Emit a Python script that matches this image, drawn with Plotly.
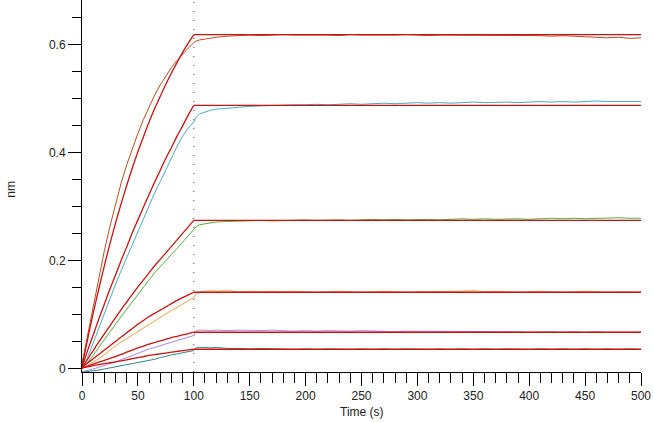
import plotly.graph_objects as go

# ---------------- data ----------------
t_assoc = [0, 5, 10, 15, 20, 25, 30, 35, 40, 45, 50, 55, 60, 65, 70, 75, 80, 85, 90, 95, 100]
t_dis = [102, 105, 110, 115, 120, 130, 140, 150, 160, 170, 180, 190, 200, 210, 220, 230, 240,
         250, 260, 270, 280, 290, 300, 310, 320, 330, 340, 350, 360, 370, 380, 390, 400, 410,
         420, 430, 440, 450, 460, 470, 480, 490, 500]
t_plateau = [100, 500]

d1_assoc = [0.010, 0.062, 0.117, 0.170, 0.219, 0.264, 0.306, 0.344, 0.378, 0.408, 0.436, 0.462,
            0.486, 0.507, 0.526, 0.543, 0.558, 0.571, 0.583, 0.594, 0.604]
d1_dis = [0.607, 0.609, 0.611, 0.613, 0.614, 0.616, 0.617, 0.618, 0.617, 0.618, 0.619, 0.618,
          0.618, 0.619, 0.618, 0.617, 0.619, 0.618, 0.618, 0.617, 0.618, 0.619, 0.618, 0.617,
          0.618, 0.618, 0.617, 0.618, 0.617, 0.618, 0.617, 0.618, 0.617, 0.617, 0.616, 0.617,
          0.616, 0.615, 0.614, 0.613, 0.614, 0.612, 0.613]
f1 = [0.005, 0.055, 0.103, 0.148, 0.191, 0.232, 0.270, 0.306, 0.340, 0.372, 0.402, 0.430,
      0.457, 0.482, 0.505, 0.527, 0.548, 0.567, 0.586, 0.603, 0.619]

d2_assoc = [0.003, 0.022, 0.048, 0.076, 0.103, 0.130, 0.157, 0.182, 0.206, 0.232, 0.256, 0.280,
            0.303, 0.326, 0.347, 0.369, 0.391, 0.412, 0.431, 0.446, 0.457]
d2_dis = [0.466, 0.472, 0.476, 0.479, 0.481, 0.483, 0.485, 0.486, 0.487, 0.488, 0.488, 0.489,
          0.489, 0.490, 0.489, 0.490, 0.491, 0.490, 0.491, 0.492, 0.491, 0.492, 0.493, 0.492,
          0.493, 0.492, 0.493, 0.494, 0.493, 0.494, 0.494, 0.493, 0.494, 0.495, 0.494, 0.495,
          0.494, 0.495, 0.496, 0.495, 0.495, 0.496, 0.495]
f2 = [0.004, 0.034, 0.063, 0.092, 0.120, 0.148, 0.174, 0.201, 0.226, 0.252, 0.276, 0.300,
      0.323, 0.346, 0.368, 0.390, 0.410, 0.431, 0.450, 0.470, 0.488]

d3_assoc = [0.000, 0.012, 0.025, 0.040, 0.055, 0.069, 0.083, 0.097, 0.111, 0.125, 0.139, 0.152,
            0.165, 0.178, 0.190, 0.201, 0.212, 0.223, 0.235, 0.246, 0.258]
d3_dis = [0.263, 0.267, 0.269, 0.271, 0.272, 0.273, 0.274, 0.274, 0.275, 0.274, 0.275, 0.275,
          0.276, 0.275, 0.276, 0.276, 0.275, 0.276, 0.277, 0.276, 0.277, 0.276, 0.277, 0.277,
          0.276, 0.277, 0.278, 0.277, 0.278, 0.277, 0.278, 0.278, 0.277, 0.278, 0.279, 0.278,
          0.279, 0.278, 0.279, 0.279, 0.280, 0.279, 0.279]
f3 = [0.002, 0.018, 0.034, 0.050, 0.065, 0.080, 0.095, 0.110, 0.124, 0.138, 0.152, 0.165,
      0.178, 0.191, 0.203, 0.215, 0.227, 0.239, 0.251, 0.263, 0.275]

d4_assoc = [0.000, 0.006, 0.012, 0.019, 0.027, 0.035, 0.043, 0.050, 0.056, 0.063, 0.069, 0.076,
            0.082, 0.089, 0.095, 0.102, 0.108, 0.114, 0.120, 0.126, 0.132]
d4_dis = [0.138, 0.142, 0.144, 0.145, 0.144, 0.145, 0.143, 0.144, 0.143, 0.144, 0.143, 0.144,
          0.143, 0.142, 0.143, 0.144, 0.143, 0.142, 0.143, 0.144, 0.143, 0.142, 0.143, 0.143,
          0.144, 0.143, 0.144, 0.145, 0.143, 0.144, 0.143, 0.142, 0.143, 0.144, 0.143, 0.142,
          0.143, 0.144, 0.143, 0.142, 0.143, 0.143, 0.142]
f4 = [0.003, 0.011, 0.019, 0.027, 0.035, 0.043, 0.051, 0.059, 0.067, 0.075, 0.083, 0.090,
      0.097, 0.103, 0.109, 0.115, 0.121, 0.127, 0.132, 0.137, 0.142]

d5_assoc = [-0.005, -0.003, 0.000, 0.003, 0.007, 0.010, 0.013, 0.017, 0.021, 0.026, 0.030, 0.034,
            0.037, 0.040, 0.043, 0.047, 0.050, 0.053, 0.056, 0.059, 0.062]
d5_dis = [0.070, 0.072, 0.072, 0.071, 0.072, 0.071, 0.072, 0.071, 0.071, 0.072, 0.071, 0.070,
          0.071, 0.070, 0.071, 0.070, 0.070, 0.071, 0.070, 0.070, 0.069, 0.070, 0.070, 0.069,
          0.070, 0.069, 0.070, 0.069, 0.069, 0.070, 0.069, 0.069, 0.068, 0.069, 0.069, 0.068,
          0.069, 0.068, 0.069, 0.068, 0.068, 0.069, 0.068]
f5 = [0.002, 0.0055, 0.009, 0.0125, 0.016, 0.0195, 0.023, 0.027, 0.031, 0.035, 0.039, 0.0425,
      0.046, 0.049, 0.052, 0.055, 0.058, 0.0605, 0.063, 0.0655, 0.068]

d6_assoc = [-0.006, -0.005, -0.004, -0.002, 0.000, 0.002, 0.004, 0.006, 0.008, 0.010, 0.012, 0.013,
            0.015, 0.018, 0.021, 0.024, 0.026, 0.028, 0.030, 0.032, 0.034]
d6_dis = [0.039, 0.040, 0.040, 0.039, 0.040, 0.038, 0.038, 0.037, 0.038, 0.037, 0.037, 0.036,
          0.037, 0.036, 0.037, 0.036, 0.036, 0.037, 0.036, 0.037, 0.036, 0.037, 0.036, 0.036,
          0.037, 0.036, 0.037, 0.036, 0.037, 0.036, 0.037, 0.036, 0.036, 0.037, 0.036, 0.037,
          0.036, 0.037, 0.036, 0.037, 0.036, 0.037, 0.036]
f6 = [0.002, 0.004, 0.006, 0.008, 0.010, 0.0115, 0.013, 0.015, 0.017, 0.019, 0.021, 0.023,
      0.025, 0.0265, 0.028, 0.0295, 0.031, 0.0325, 0.034, 0.0352, 0.0365]

data_series = [
    (d1_assoc, d1_dis, "#b8501c"),
    (d2_assoc, d2_dis, "#4aa9c4"),
    (d3_assoc, d3_dis, "#4fb03a"),
    (d4_assoc, d4_dis, "#f0a14a"),
    (d5_assoc, d5_dis, "#b482e2"),
    (d6_assoc, d6_dis, "#2f8585"),
]
fit_series = [f1, f2, f3, f4, f5, f6]

FIT_COLOR = "#cc1111"
y_min, y_max = -0.0056, 0.683

fig = go.Figure()
for a, d, c in data_series:
    fig.add_trace(go.Scatter(x=t_assoc + t_dis, y=a + d, mode="lines",
                             line=dict(color=c, width=1), hoverinfo="skip", showlegend=False))
for f in fit_series:
    # association part of the fit (smooth curve)
    fig.add_trace(go.Scatter(x=t_assoc, y=f, mode="lines",
                             line=dict(color=FIT_COLOR, width=1.3, shape="spline", smoothing=0.8),
                             hoverinfo="skip", showlegend=False))
    # dissociation part of the fit (flat at the value reached at 100 s)
    fig.add_trace(go.Scatter(x=t_plateau, y=[f[-1], f[-1]], mode="lines",
                             line=dict(color=FIT_COLOR, width=1.3),
                             hoverinfo="skip", showlegend=False))

fig.add_shape(type="line", xref="x", yref="y", x0=100, x1=100, y0=y_min, y1=y_max,
              line=dict(color="#a02020", width=1, dash="1px,8px"), layer="below")

axis_font = dict(family="Liberation Sans, Arial, sans-serif", size=12, color="#222222")
fig.update_layout(
    width=653, height=422,
    margin=dict(l=82, r=12, t=0, b=50),
    paper_bgcolor="white", plot_bgcolor="white",
    font=axis_font,
    xaxis=dict(range=[0, 500], dtick=50, tick0=0, showgrid=False, zeroline=False,
               showline=True, linecolor="black", linewidth=1,
               ticks="outside", ticklen=13, tickcolor="black", tickfont=axis_font,
               minor=dict(dtick=10, tick0=0, ticks="outside", ticklen=10, tickcolor="black", showgrid=False)),
    yaxis=dict(range=[y_min, y_max], dtick=0.2, tick0=0, showgrid=False, zeroline=False,
               showline=True, linecolor="black", linewidth=1,
               ticks="outside", ticklen=13, tickcolor="black", tickfont=axis_font,
               minor=dict(dtick=0.05, tick0=0, ticks="outside", ticklen=9, tickcolor="black", showgrid=False)),
    annotations=[
        dict(text="Time (s)", xref="paper", yref="paper", x=0.5, y=-0.108, yanchor="middle",
             xanchor="center", showarrow=False, font=axis_font),
        dict(text="nm", xref="paper", yref="paper", x=-0.127, y=0.49, textangle=-90,
             xanchor="center", yanchor="middle", showarrow=False, font=axis_font),
    ],
)

fig.write_html("out.html")
